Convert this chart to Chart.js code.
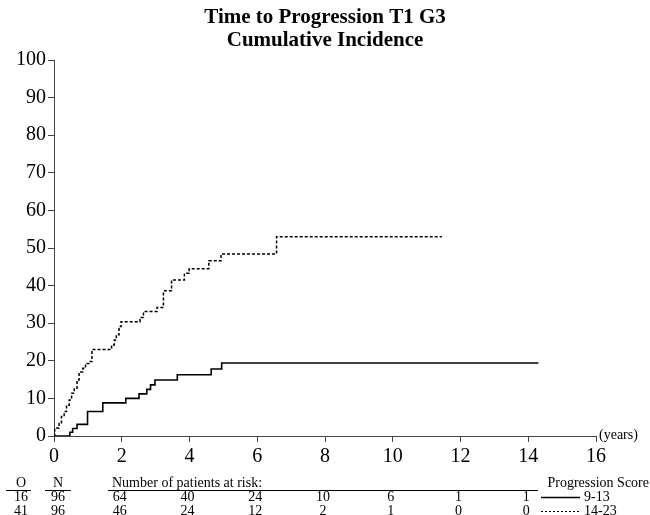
<!DOCTYPE html>
<html>
<head>
<meta charset="utf-8">
<script src="https://cdn.jsdelivr.net/npm/chart.js@4.4.1/dist/chart.umd.min.js"></script>
<style>
  body { margin: 0; background: #fff; }
  #wrap { width: 650px; height: 515px; }
</style>
</head>
<body>
<div id="wrap"><canvas id="chart" width="650" height="515"></canvas></div>
<script>
// progression score 9-13 (solid)
const lowTimes = [0, 0.47, 0.55, 0.68, 0.99, 1.44, 2.12, 2.51, 2.74, 2.85, 2.98, 3.64, 4.64, 4.95, 14.3];
const lowValues = [0, 1.0, 2.0, 3.1, 6.5, 8.8, 10.0, 11.2, 12.4, 13.6, 14.9, 16.3, 17.8, 19.4, 19.4];

// progression score 14-23 (dashed)
const highTimes = [0, 0.02, 0.15, 0.22, 0.30, 0.37, 0.45, 0.52, 0.60, 0.68, 0.74, 0.85, 0.93, 1.03, 1.12,
  1.70, 1.78, 1.84, 1.92, 1.98, 2.54, 2.64, 3.04, 3.23, 3.47, 3.85, 3.99, 4.57, 4.93, 6.57, 11.45];
const highValues = [0, 2.1, 3.3, 5.2, 6.5, 8.2, 9.6, 11.4, 12.7, 14.9, 17.0, 18.0, 19.3, 19.8, 23.0,
  24.2, 25.5, 26.9, 29.1, 30.4, 31.5, 33.1, 34.2, 38.6, 41.5, 43.3, 44.5, 46.6, 48.4, 53.0, 53.0];

const riskTimes = [2, 4, 6, 8, 10, 12, 14];
const riskLow = [64, 40, 24, 10, 6, 1, 1];
const riskHigh = [46, 24, 12, 2, 1, 0, 0];
const groupLabels = ["9-13", "14-23"];
const observed = [16, 41];
const totals = [96, 96];

const serif = "'Liberation Serif', 'DejaVu Serif', serif";
const axisColor = "#444";

function toPoints(ts, vs) {
  return ts.map((t, i) => ({ x: t, y: vs[i] }));
}

const extras = {
  id: "extras",
  afterDraw(chart) {
    const ctx = chart.ctx;
    const xs = chart.scales.x;
    ctx.save();
    ctx.fillStyle = "#000";
    ctx.textBaseline = "middle";

    // title
    ctx.font = "bold 21px " + serif;
    ctx.textAlign = "center";
    ctx.fillText("Time to Progression T1 G3", 325, 18);
    ctx.fillText("Cumulative Incidence", 325, 41);

    // axis unit
    ctx.font = "14px " + serif;
    ctx.textAlign = "left";
    ctx.fillText("(years)", 599, 435);

    // O / N columns
    ctx.textAlign = "center";
    ctx.fillText("O", 21, 483);
    ctx.fillText("N", 58, 483);
    for (let i = 0; i < observed.length; i++) {
      ctx.fillText(String(observed[i]), 21, 497 + i * 14);
      ctx.fillText(String(totals[i]), 58, 497 + i * 14);
    }
    ctx.textAlign = "left";
    ctx.fillText("Number of patients at risk:", 112, 483);

    ctx.strokeStyle = "#000";
    ctx.lineWidth = 1;
    ctx.beginPath();
    ctx.moveTo(6, 490.5); ctx.lineTo(31, 490.5);
    ctx.moveTo(45, 490.5); ctx.lineTo(71, 490.5);
    ctx.moveTo(108, 490.5); ctx.lineTo(538, 490.5);
    ctx.stroke();

    // numbers at risk
    ctx.textAlign = "center";
    riskTimes.forEach((t, i) => {
      const px = xs.getPixelForValue(t) - 2;
      ctx.fillText(String(riskLow[i]), px, 497);
      ctx.fillText(String(riskHigh[i]), px, 511);
    });

    // legend
    ctx.textAlign = "right";
    ctx.fillText("Progression Score", 649, 483);
    ctx.textAlign = "left";
    ctx.fillText(groupLabels[0], 584, 497);
    ctx.fillText(groupLabels[1], 584, 511);
    ctx.lineWidth = 1.5;
    ctx.beginPath();
    ctx.moveTo(541, 497.5); ctx.lineTo(580, 497.5);
    ctx.stroke();
    ctx.lineWidth = 1;
    ctx.setLineDash([2, 2]);
    ctx.beginPath();
    ctx.moveTo(541, 511.5); ctx.lineTo(580, 511.5);
    ctx.stroke();
    ctx.restore();
  }
};

new Chart(document.getElementById("chart"), {
  type: "line",
  data: {
    datasets: [
      {
        label: groupLabels[0],
        data: toPoints(lowTimes, lowValues),
        borderColor: "#000",
        borderWidth: 1.6,
        stepped: "before",
        pointRadius: 0,
        fill: false,
      },
      {
        label: groupLabels[1],
        data: toPoints(highTimes, highValues),
        borderColor: "#000",
        borderWidth: 1.5,
        borderDash: [3, 2],
        stepped: "before",
        pointRadius: 0,
        fill: false,
      },
    ],
  },
  options: {
    responsive: false,
    animation: false,
    layout: { padding: { left: 0, right: 54, top: 60, bottom: 49 } },
    plugins: {
      legend: { display: false },
      title: { display: false },
      tooltip: { enabled: false },
    },
    scales: {
      x: {
        type: "linear",
        min: 0,
        max: 16,
        ticks: { stepSize: 2, color: "#000", padding: 3, font: { family: serif, size: 20 } },
        grid: { drawOnChartArea: false, drawTicks: true, tickLength: 6, color: axisColor },
        border: { display: true, color: axisColor, width: 1 },
        afterFit(s) { s.height = 30; },
      },
      y: {
        min: 0,
        max: 100,
        ticks: { stepSize: 10, color: "#000", padding: 2, font: { family: serif, size: 20 } },
        grid: { drawOnChartArea: false, drawTicks: true, tickLength: 6, color: axisColor },
        border: { display: true, color: axisColor, width: 1 },
        afterFit(s) { s.width = 54; },
      },
    },
  },
  plugins: [extras],
});
</script>
</body>
</html>
